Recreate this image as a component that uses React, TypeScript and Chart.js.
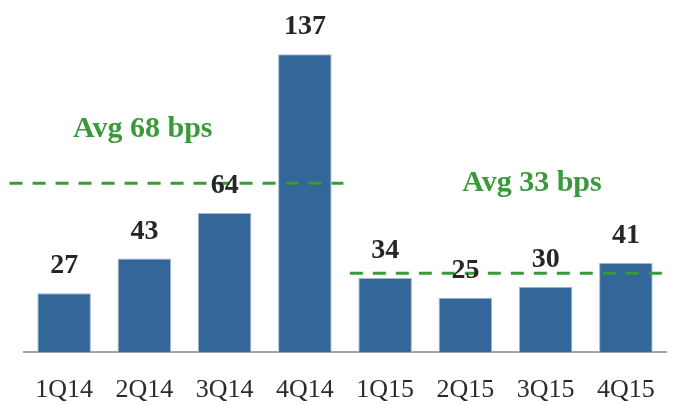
import React, { useEffect, useRef } from 'react';
import { Chart, registerables } from 'chart.js';

Chart.register(...registerables);

const categories = ['1Q14', '2Q14', '3Q14', '4Q14', '1Q15', '2Q15', '3Q15', '4Q15'];
const values = [27, 43, 64, 137, 34, 25, 30, 41];
const averageLabels = ['Avg 68 bps', 'Avg 33 bps'];
const averageLineLevels = [77.6, 36.2];

const GREEN = '#3a9a3a';
const BAR = '#336699';

const overlay = {
  id: 'overlay',
  afterDatasetsDraw(chart: any) {
    const { ctx, scales } = chart;
    const x = scales.x;
    const y = scales.y;
    const meta = chart.getDatasetMeta(0);
    ctx.save();
    const spans = [
      [-0.68, 3.48],
      [3.56, 7.56],
    ];
    ctx.strokeStyle = GREEN;
    ctx.lineWidth = 3;
    ctx.setLineDash([13, 10]);
    averageLineLevels.forEach((lv, i) => {
      const py = y.getPixelForValue(lv);
      ctx.beginPath();
      ctx.moveTo(x.getPixelForValue(spans[i][0]), py);
      ctx.lineTo(x.getPixelForValue(spans[i][1]), py);
      ctx.stroke();
    });
    ctx.setLineDash([]);
    const labelPos = [
      [0.98, 98.7],
      [5.83, 74.2],
    ];
    ctx.fillStyle = GREEN;
    ctx.font = 'bold 30px "Liberation Serif", serif';
    ctx.textAlign = 'center';
    ctx.textBaseline = 'alphabetic';
    averageLabels.forEach((t, i) => {
      ctx.fillText(t, x.getPixelForValue(labelPos[i][0]), y.getPixelForValue(labelPos[i][1]));
    });
    ctx.fillStyle = '#262626';
    ctx.font = 'bold 28px "Liberation Serif", serif';
    meta.data.forEach((bar: any, i: number) => {
      ctx.fillText(String(values[i]), bar.x, bar.y - 20);
    });
    ctx.restore();
  },
};

export default function App() {
  const ref = useRef<HTMLCanvasElement | null>(null);
  useEffect(() => {
    if (!ref.current) return;
    const chart = new Chart(ref.current, {
      type: 'bar',
      data: {
        labels: categories,
        datasets: [
          {
            data: values,
            backgroundColor: BAR,
            borderColor: '#9fb6d3',
            borderWidth: 1,
            categoryPercentage: 1,
            barPercentage: 0.667,
          },
        ],
      },
      options: {
        animation: false,
        responsive: false,
        layout: { padding: { top: 26, left: 24, right: 14, bottom: 0 } },
        plugins: { legend: { display: false }, tooltip: { enabled: false } },
        scales: {
          x: {
            grid: { display: false, drawTicks: false },
            border: { display: true, color: '#a6a6a6', width: 2 },
            ticks: {
              color: '#2b2b2b',
              padding: 23,
              font: { family: '"Liberation Serif", serif', size: 26 },
            },
            afterFit: (s: any) => {
              s.height = 53;
            },
          },
          y: { display: false, min: 0, max: 150 },
        },
      },
      plugins: [overlay],
    });
    return () => chart.destroy();
  }, []);
  return (
    <div style={{ position: 'absolute', left: 0, top: 0, width: 680, height: 405, background: '#fff' }}>
      <canvas ref={ref} width={680} height={405} style={{ display: 'block' }} />
    </div>
  );
}
